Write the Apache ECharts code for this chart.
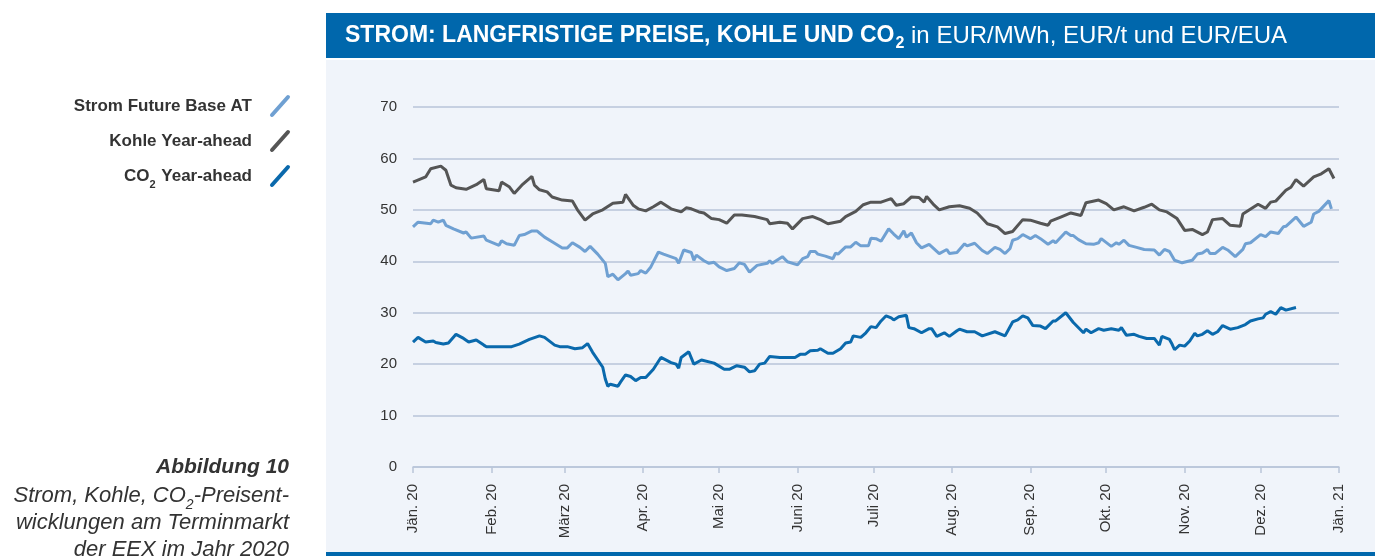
<!DOCTYPE html>
<html>
<head>
<meta charset="utf-8">
<script src="https://cdn.jsdelivr.net/npm/echarts@6/dist/echarts.min.js"></script>
<style>
html,body{margin:0;padding:0;background:#fff;}
#chart{width:1375px;height:556px;}
</style>
</head>
<body>
<div id="chart"></div>
<script>
// Month tick positions (day of year 2020, leap year) and labels
const monthDays = [0,31,60,91,121,152,182,213,244,274,305,335,366];
const monthLabels = ['Jän. 20','Feb. 20','März 20','Apr. 20','Mai 20','Juni 20','Juli 20','Aug. 20','Sep. 20','Okt. 20','Nov. 20','Dez. 20','Jän. 21'];
const seriesNames = ['Strom Future Base AT','Kohle Year-ahead','CO2 Year-ahead'];

// Strom Future Base AT (EUR/MWh) — day offsets from 1 Jan 2020
const stromDays = [0,2,7,8,10,12,13,16,20,21,23,28,29,34,35,37,40,42,44,47,49,50,52,55,59,61,63,66,68,70,73,76,77,79,81,84,85,86,89,90,92,94,97,99,104,105,107,110,111,112,115,117,119,121,124,127,129,131,133,136,140,141,142,146,148,152,154,156,157,159,160,163,166,167,168,171,173,175,177,180,181,183,185,188,190,192,194,195,197,199,201,204,208,211,212,215,218,219,222,225,227,230,232,234,236,237,239,241,244,246,248,251,253,254,258,260,261,263,266,269,271,272,276,278,279,281,283,286,289,293,295,297,299,301,304,308,310,312,314,315,317,320,322,325,328,329,331,335,337,339,342,344,345,349,352,355,356,358,362,363];
const stromVals = [46.7,47.6,47.3,48.0,47.6,48.0,47.0,46.3,45.5,45.7,44.5,44.9,44.1,43.1,44.0,43.4,43.1,45.0,45.2,45.9,45.9,45.5,44.7,43.8,42.6,42.6,43.6,42.7,41.9,42.9,41.4,39.6,37.0,37.5,36.4,37.6,38.1,37.3,37.6,38.2,37.7,38.9,41.8,41.4,40.5,39.6,42.2,41.7,40.2,41.2,40.1,39.6,39.8,38.9,38.2,38.6,39.7,39.4,37.9,39.2,39.6,40.1,39.6,40.9,39.9,39.3,40.5,40.9,41.9,41.9,41.4,41.0,40.5,41.6,41.4,42.8,42.8,43.7,43.0,43.0,44.5,44.4,43.9,46.3,45.3,44.4,45.9,44.7,45.5,43.6,42.6,43.3,41.5,42.3,41.5,41.7,43.4,43.0,43.5,42.1,41.5,42.7,42.3,41.5,42.5,44.1,44.4,45.2,44.4,45.0,44.4,43.3,44.0,43.6,45.7,45.0,45.0,44.2,43.4,43.3,43.6,44.4,42.9,43.6,43.3,44.1,43.1,42.7,42.3,42.2,41.2,42.3,41.9,40.2,39.7,40.2,41.4,41.6,42.3,41.5,41.5,42.7,42.2,40.9,42.3,43.4,43.6,45.2,44.8,45.7,45.4,46.7,46.8,48.6,46.8,47.6,49.2,49.7,51.8,50.2];

// Kohle Year-ahead (EUR/t)
const kohleDays = [0,5,7,11,13,15,17,21,25,28,29,34,35,38,40,43,47,48,50,53,55,59,63,65,68,71,75,79,83,84,87,89,92,95,98,102,106,108,110,113,115,118,121,124,127,130,135,140,141,145,148,150,154,158,161,164,169,171,175,178,181,185,189,191,194,197,200,202,203,206,208,212,216,220,223,227,231,234,237,241,244,248,251,252,256,260,264,266,271,274,277,281,285,289,292,295,298,302,305,308,312,314,316,320,323,327,328,334,337,339,341,345,347,349,352,356,359,362,364];
const kohleVals = [55.4,56.4,58.0,58.5,57.7,54.8,54.3,54.0,54.9,55.9,54.1,53.7,55.4,54.5,53.2,54.8,56.5,54.8,53.9,53.5,52.5,51.9,51.7,50.0,48.0,49.2,50.0,51.3,51.5,53.0,50.9,50.2,49.8,50.6,51.5,50.2,49.6,50.4,50.2,49.6,49.4,48.3,48.1,47.4,49.0,49.0,48.7,48.1,47.3,47.6,47.4,46.3,48.3,48.7,48.1,47.3,47.8,48.7,49.7,51.0,51.5,51.5,52.2,50.9,51.2,52.5,52.4,51.5,52.6,50.9,50.0,50.6,50.8,50.3,49.4,47.3,46.7,45.4,45.8,48.1,48.0,47.4,47.0,47.8,48.6,49.4,48.9,51.4,51.9,51.2,50.0,50.6,49.8,50.5,51.1,50.0,49.6,48.3,46.0,46.2,45.2,45.7,48.1,48.3,47.0,46.8,49.2,51.1,50.3,51.5,51.7,53.8,54.4,55.9,54.6,56.4,57.0,58.0,56.1];

// CO2 Year-ahead (EUR/EUA)
const co2Days = [0,2,5,8,9,12,14,17,20,22,25,28,29,39,42,46,50,52,56,58,61,64,67,69,71,75,76,77,78,81,82,84,86,88,90,92,95,98,102,104,105,106,109,111,114,119,123,125,128,131,133,135,137,139,141,145,151,153,155,157,160,161,164,166,169,171,173,174,175,177,179,181,183,185,187,189,190,192,195,196,198,201,204,205,207,210,212,215,216,219,222,225,230,234,237,239,241,243,245,248,250,253,254,258,261,265,266,268,271,273,276,279,280,282,285,286,287,290,293,295,296,299,300,301,303,305,307,309,310,312,314,316,318,320,323,326,329,331,334,336,337,339,341,343,345,349];
const co2Vals = [24.3,25.2,24.3,24.5,24.2,23.9,24.1,25.8,25.0,24.3,24.7,23.7,23.4,23.4,23.9,24.8,25.5,25.2,23.7,23.4,23.4,23.0,23.2,24.0,22.3,19.4,17.1,15.7,16.1,15.7,16.5,17.9,17.6,16.8,17.4,17.4,19.0,21.3,20.3,20.0,19.2,21.3,22.4,20.0,20.8,20.2,19.0,19.0,19.7,19.4,18.5,18.7,20.0,20.2,21.5,21.3,21.3,21.9,21.9,22.6,22.7,23.0,22.1,22.1,23.0,24.1,24.3,25.5,25.4,25.2,26.1,27.3,27.1,28.4,29.4,29.0,28.6,29.2,29.5,27.1,26.9,26.1,26.9,26.9,25.4,26.1,25.4,26.5,26.8,26.3,26.3,25.5,26.3,25.5,28.2,28.6,29.4,29.0,27.5,27.4,26.9,28.4,28.4,30.0,28.1,26.1,26.8,26.1,26.9,26.6,26.9,26.6,27.1,25.6,25.8,25.6,25.4,25.0,25.0,23.7,25.4,24.8,23.9,22.8,23.7,23.5,24.5,26.0,25.5,25.8,26.5,25.8,26.3,27.5,26.8,27.1,27.7,28.4,28.8,29.0,29.7,30.2,29.7,31.0,30.5,31.0];

const C_STROM = '#6fa0d2', C_KOHLE = '#555555', C_CO2 = '#0a69ac';
const C_BAR = '#0067ac', C_PANEL = '#f0f4fa', C_GRID = '#b9c5d9', C_TEXT = '#333333';
const FONT = '"Liberation Sans", Arial, sans-serif';

function pairs(d, v){ return d.map((x,i)=>[x, v[i]]); }

const chart = echarts.init(document.getElementById('chart'), null, {renderer:'canvas'});

const option = {
  animation: false,
  backgroundColor: '#ffffff',
  grid: {left: 413, right: 36, top: 107, bottom: 89},
  xAxis: {
    type: 'value', min: 0, max: 366,
    axisLine: {show: true, lineStyle: {color: C_GRID, width: 1.5}},
    axisTick: {show: true, customValues: monthDays, length: 6, lineStyle: {color: C_GRID, width: 1.5}},
    axisLabel: {
      customValues: monthDays, rotate: 90, margin: 17,
      color: C_TEXT, fontFamily: FONT, fontSize: 15,
      formatter: function(v){ const i = monthDays.indexOf(Math.round(v)); return i >= 0 ? monthLabels[i] : ''; }
    },
    splitLine: {show: false}
  },
  yAxis: {
    type: 'value', min: 0, max: 70, interval: 10,
    axisLine: {show: false}, axisTick: {show: false},
    axisLabel: {color: C_TEXT, fontFamily: FONT, fontSize: 15, margin: 16},
    splitLine: {show: true, lineStyle: {color: C_GRID, width: 1.5}}
  },
  series: [
    {name: seriesNames[1], type: 'line', data: pairs(kohleDays, kohleVals), showSymbol: false, lineStyle: {color: C_KOHLE, width: 3}, itemStyle:{color:C_KOHLE}},
    {name: seriesNames[0], type: 'line', data: pairs(stromDays, stromVals), showSymbol: false, lineStyle: {color: C_STROM, width: 3}, itemStyle:{color:C_STROM}},
    {name: seriesNames[2], type: 'line', data: pairs(co2Days, co2Vals), showSymbol: false, lineStyle: {color: C_CO2, width: 3}, itemStyle:{color:C_CO2}}
  ],
  graphic: [
    {type: 'rect', z: -10, silent: true, shape: {x: 326, y: 60, width: 1049, height: 492}, style: {fill: C_PANEL}},
    {type: 'rect', z: -10, silent: true, shape: {x: 326, y: 552, width: 1049, height: 4}, style: {fill: C_BAR}},
    {type: 'rect', z: -10, silent: true, shape: {x: 326, y: 13, width: 1049, height: 45}, style: {fill: C_BAR}},
    {type: 'text', x: 345, y: 36, silent: true, style: {
      text: '{b|STROM: LANGFRISTIGE PREISE, KOHLE UND CO}{s|2}{r| in EUR/MWh, EUR/t und EUR/EUA}',
      verticalAlign: 'middle', align: 'left',
      rich: {
        b: {fontFamily: FONT, fontWeight: 'bold', fontSize: 23, fill: '#fff', lineHeight: 30},
        s: {fontFamily: FONT, fontWeight: 'bold', fontSize: 16, fill: '#fff', lineHeight: 30, verticalAlign: 'bottom', padding: [0,0,-1,1]},
        r: {fontFamily: FONT, fontSize: 24, fill: '#fff', lineHeight: 30}
      }
    }},
    // legend
    {type: 'text', x: 252, y: 106, silent: true, style: {text: seriesNames[0], align: 'right', verticalAlign: 'middle', font: 'bold 17px ' + FONT, fill: C_TEXT}},
    {type: 'text', x: 252, y: 141, silent: true, style: {text: seriesNames[1], align: 'right', verticalAlign: 'middle', font: 'bold 17px ' + FONT, fill: C_TEXT}},
    {type: 'text', x: 252, y: 176, silent: true, style: {
      text: '{a|CO}{s|2}{a| Year-ahead}', align: 'right', verticalAlign: 'middle',
      rich: {a: {fontFamily: FONT, fontWeight: 'bold', fontSize: 17, fill: C_TEXT, lineHeight: 22},
             s: {fontFamily: FONT, fontWeight: 'bold', fontSize: 11, fill: C_TEXT, lineHeight: 22, verticalAlign: 'bottom', padding: [0,1,-3,0]}}
    }},
    {type: 'line', silent: true, shape: {x1: 272, y1: 115, x2: 288, y2: 97}, style: {stroke: C_STROM, lineWidth: 4, lineCap: 'round'}},
    {type: 'line', silent: true, shape: {x1: 272, y1: 150, x2: 288, y2: 132}, style: {stroke: C_KOHLE, lineWidth: 4, lineCap: 'round'}},
    {type: 'line', silent: true, shape: {x1: 272, y1: 185, x2: 288, y2: 167}, style: {stroke: C_CO2, lineWidth: 4, lineCap: 'round'}},
    // caption
    {type: 'text', x: 289, y: 467, silent: true, style: {text: 'Abbildung 10', align: 'right', verticalAlign: 'middle', font: 'italic bold 21px ' + FONT, fill: C_TEXT}},
    {type: 'text', x: 289, y: 496, silent: true, style: {
      text: '{a|Strom, Kohle, CO}{s|2}{a|-Preisent-}', align: 'right', verticalAlign: 'middle',
      rich: {a: {fontFamily: FONT, fontStyle: 'italic', fontSize: 22, fill: C_TEXT, lineHeight: 26},
             s: {fontFamily: FONT, fontStyle: 'italic', fontSize: 14, fill: C_TEXT, lineHeight: 26, verticalAlign: 'bottom', padding: [0,0,-3,0]}}
    }},
    {type: 'text', x: 289, y: 523, silent: true, style: {text: 'wicklungen am Terminmarkt', align: 'right', verticalAlign: 'middle', font: 'italic 22px ' + FONT, fill: C_TEXT}},
    {type: 'text', x: 289, y: 550, silent: true, style: {text: 'der EEX im Jahr 2020', align: 'right', verticalAlign: 'middle', font: 'italic 22px ' + FONT, fill: C_TEXT}}
  ]
};
chart.setOption(option);
</script>
</body>
</html>
